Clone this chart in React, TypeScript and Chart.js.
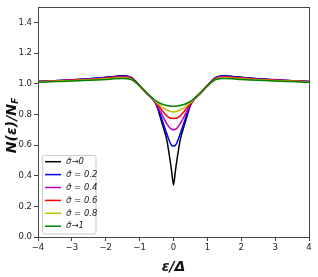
import React, { useEffect, useRef } from "react";
import { Chart, registerables } from "chart.js";
Chart.register(...registerables);

const epsilon = [-4, -3.5, -3, -2.5, -2, -1.75, -1.5, -1.25, -1, -0.8, -0.6, -0.5, -0.4, -0.3, -0.2, -0.1, -0.05, 0, 0.05, 0.1, 0.2, 0.3, 0.4, 0.5, 0.6, 0.8, 1, 1.25, 1.5, 1.75, 2, 2.5, 3, 3.5, 4];

const sigma00 = [1.015, 1.02, 1.026, 1.033, 1.042, 1.048, 1.052, 1.042, 0.99, 0.94, 0.895, 0.86, 0.79, 0.715, 0.635, 0.5, 0.42, 0.34, 0.42, 0.5, 0.635, 0.715, 0.79, 0.86, 0.895, 0.94, 0.99, 1.042, 1.052, 1.048, 1.042, 1.033, 1.026, 1.02, 1.015];
const sigma02 = [1.015, 1.02, 1.025, 1.032, 1.04, 1.046, 1.05, 1.04, 0.985, 0.94, 0.895, 0.862, 0.805, 0.74, 0.675, 0.615, 0.598, 0.593, 0.598, 0.615, 0.675, 0.74, 0.805, 0.862, 0.895, 0.94, 0.985, 1.04, 1.05, 1.046, 1.04, 1.032, 1.025, 1.02, 1.015];
const sigma04 = [1.014, 1.019, 1.024, 1.03, 1.038, 1.043, 1.046, 1.037, 0.985, 0.94, 0.897, 0.866, 0.825, 0.78, 0.74, 0.71, 0.703, 0.7, 0.703, 0.71, 0.74, 0.78, 0.825, 0.866, 0.897, 0.94, 0.985, 1.037, 1.046, 1.043, 1.038, 1.03, 1.024, 1.019, 1.014];
const sigma06 = [1.013, 1.018, 1.022, 1.028, 1.035, 1.04, 1.043, 1.035, 0.985, 0.94, 0.898, 0.871, 0.845, 0.815, 0.79, 0.776, 0.774, 0.773, 0.774, 0.776, 0.79, 0.815, 0.845, 0.871, 0.898, 0.94, 0.985, 1.035, 1.043, 1.04, 1.035, 1.028, 1.022, 1.018, 1.013];
const sigma08 = [1.012, 1.016, 1.02, 1.026, 1.032, 1.036, 1.039, 1.032, 0.985, 0.942, 0.9, 0.876, 0.86, 0.843, 0.83, 0.82, 0.817, 0.816, 0.817, 0.82, 0.83, 0.843, 0.86, 0.876, 0.9, 0.942, 0.985, 1.032, 1.039, 1.036, 1.032, 1.026, 1.02, 1.016, 1.012];
const sigma10 = [1.01, 1.014, 1.018, 1.023, 1.028, 1.032, 1.034, 1.028, 0.985, 0.943, 0.902, 0.885, 0.873, 0.864, 0.858, 0.854, 0.853, 0.853, 0.853, 0.854, 0.858, 0.864, 0.873, 0.885, 0.902, 0.943, 0.985, 1.028, 1.034, 1.032, 1.028, 1.023, 1.018, 1.014, 1.01];

const seriesValues = [sigma00, sigma02, sigma04, sigma06, sigma08, sigma10];
const seriesLabels = ["σ̃→0", "σ̃ = 0.2", "σ̃ = 0.4", "σ̃ = 0.6", "σ̃ = 0.8", "σ̃→1"];
const seriesColors = ["#000000", "#0000ff", "#bf00bf", "#ff0000", "#bfbf00", "#008000"];

const xTicks = [-4, -3, -2, -1, 0, 1, 2, 3, 4];
const yTicks = [0, 0.2, 0.4, 0.6, 0.8, 1.0, 1.2, 1.4];

const FONT = "'DejaVu Sans', sans-serif";

const decorPlugin = {
  id: "decor",
  afterDraw(chart: any) {
    const { ctx, chartArea: a } = chart;
    ctx.save();
    // frame
    ctx.strokeStyle = "#444";
    ctx.lineWidth = 1;
    ctx.strokeRect(Math.round(a.left) + 0.5, Math.round(a.top) + 0.5, Math.round(a.right - a.left), Math.round(a.bottom - a.top));

    // legend
    const lx = 42, ly = 155, lw = 54, lh = 79;
    ctx.fillStyle = "rgba(255,255,255,0.85)";
    ctx.strokeStyle = "#cccccc";
    ctx.beginPath();
    const r = 2;
    ctx.moveTo(lx + r, ly + 0.5);
    ctx.lineTo(lx + lw - r, ly + 0.5);
    ctx.arcTo(lx + lw, ly + 0.5, lx + lw, ly + r, r);
    ctx.lineTo(lx + lw, ly + lh - r);
    ctx.arcTo(lx + lw, ly + lh, lx + lw - r, ly + lh, r);
    ctx.lineTo(lx + r, ly + lh);
    ctx.arcTo(lx + 0.5, ly + lh, lx + 0.5, ly + lh - r, r);
    ctx.lineTo(lx + 0.5, ly + r);
    ctx.arcTo(lx + 0.5, ly + 0.5, lx + r, ly + 0.5, r);
    ctx.closePath();
    ctx.fill();
    ctx.stroke();
    chart.data.datasets.forEach((ds: any, i: number) => {
      const y = 161.7 + i * 12.9;
      ctx.strokeStyle = ds.borderColor;
      ctx.lineWidth = 1.5;
      ctx.beginPath();
      ctx.moveTo(45, y);
      ctx.lineTo(61, y);
      ctx.stroke();
      ctx.fillStyle = "#222";
      ctx.font = `italic 8.5px ${FONT}`;
      ctx.textBaseline = "middle";
      ctx.textAlign = "left";
      ctx.fillText(ds.label, 66, y);
    });

    // y label
    ctx.save();
    ctx.translate(12, 125.5);
    ctx.rotate(-Math.PI / 2);
    ctx.fillStyle = "#111";
    ctx.textBaseline = "middle";
    ctx.textAlign = "left";
    const main = "N(ε)/N";
    ctx.font = `bold italic 14px ${FONT}`;
    const w1 = ctx.measureText(main).width;
    ctx.font = `bold italic 9px ${FONT}`;
    const w2 = ctx.measureText("F").width;
    const start = -(w1 + w2) / 2;
    ctx.font = `bold italic 14px ${FONT}`;
    ctx.fillText(main, start, 0);
    ctx.font = `bold italic 9px ${FONT}`;
    ctx.fillText("F", start + w1, 4);
    ctx.restore();

    // x label
    ctx.fillStyle = "#111";
    ctx.font = `bold italic 14px ${FONT}`;
    ctx.textAlign = "center";
    ctx.textBaseline = "middle";
    ctx.fillText("ε/Δ", (a.left + a.right) / 2, 267);
    ctx.restore();
  },
};

export default function App() {
  const ref = useRef<HTMLCanvasElement>(null);
  useEffect(() => {
    document.body.style.margin = "0";
    const canvas = ref.current!;
    const chart = new Chart(canvas, {
      type: "line",
      data: {
        datasets: seriesValues.map((vals, i) => ({
          label: seriesLabels[i],
          data: epsilon.map((x, j) => ({ x, y: vals[j] })),
          borderColor: seriesColors[i],
          backgroundColor: seriesColors[i],
          borderWidth: 1.5,
          pointRadius: 0,
          fill: false,
          cubicInterpolationMode: "monotone" as const,
          order: seriesValues.length - i,
        })),
      },
      options: {
        animation: false,
        responsive: false,
        layout: { padding: { top: 6, right: 9, left: 0, bottom: 0 } },
        plugins: { legend: { display: false }, tooltip: { enabled: false } },
        scales: {
          x: {
            type: "linear",
            min: -4,
            max: 4,
            afterFit: (s: any) => { s.height = 40; },
            afterBuildTicks: (s: any) => { s.ticks = xTicks.map((v) => ({ value: v })); },
            border: { display: false },
            grid: { drawOnChartArea: false, drawTicks: true, tickLength: 4, color: "#444" },
            ticks: {
              padding: 2,
              color: "#222",
              font: { family: FONT, size: 8.5 },
              maxRotation: 0,
              callback: (v: any) => (Number(v) < 0 ? "−" + Math.abs(Number(v)) : String(v)),
            },
          },
          y: {
            type: "linear",
            min: 0,
            max: 1.5,
            afterFit: (s: any) => { s.width = 38; },
            afterBuildTicks: (s: any) => { s.ticks = yTicks.map((v) => ({ value: v })); },
            border: { display: false },
            grid: { drawOnChartArea: false, drawTicks: true, tickLength: 4, color: "#444" },
            ticks: {
              padding: 2,
              color: "#222",
              font: { family: FONT, size: 8.5 },
              callback: (v: any) => Number(v).toFixed(1),
            },
          },
        },
      },
      plugins: [decorPlugin],
    });
    return () => chart.destroy();
  }, []);
  return (
    <div style={{ width: 318, height: 277 }}>
      <canvas ref={ref} width={318} height={277} style={{ display: "block" }} />
    </div>
  );
}
